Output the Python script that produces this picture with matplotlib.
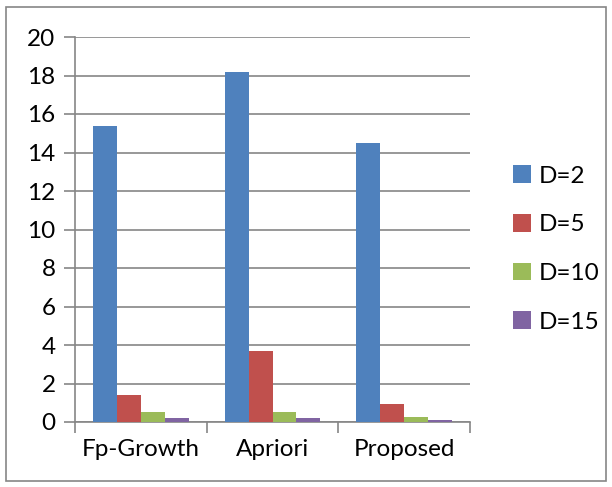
import matplotlib
matplotlib.use("Agg")
import matplotlib.pyplot as plt
from matplotlib.patches import Rectangle
import numpy as np

categories = ["Fp-Growth", "Apriori", "Proposed"]
series_names = ["D=2", "D=5", "D=10", "D=15"]
d2 = [15.38, 18.18, 14.5]
d5 = [1.42, 3.69, 0.93]
d10 = [0.54, 0.54, 0.28]
d15 = [0.2, 0.2, 0.09]
colors = ["#4F81BD", "#C0504D", "#9BBB59", "#8064A2"]
yticks = [0, 2, 4, 6, 8, 10, 12, 14, 16, 18, 20]

plt.rcParams['font.family'] = ['Lato', 'DejaVu Sans']

W, H = 612, 487
fig = plt.figure(figsize=(W / 100, H / 100), dpi=100)
ax = fig.add_axes([75 / W, 1 - 422 / H, (470 - 75) / W, (422 - 37) / H])

x = np.arange(len(categories))
bw = 0.182
series = [d2, d5, d10, d15]
handles = []
for i, (vals, c, name) in enumerate(zip(series, colors, series_names)):
    h = ax.bar(x + (i - 1.5) * bw, vals, bw, color=c, label=name, zorder=3)
    handles.append(h)

fs = 17.5
ax.set_xlim(-0.5, len(categories) - 0.5)
ax.set_ylim(0, 20)
ax.set_yticks(yticks)
ax.set_yticklabels([str(v) for v in yticks], fontsize=fs)
ax.set_xticks(x)
ax.set_xticklabels(categories, fontsize=fs)
ax.tick_params(axis='x', length=0, pad=12)
ax.set_xticks(np.arange(len(categories) + 1) - 0.5, minor=True)
ax.tick_params(axis='x', which='minor', length=8, color='#868686', width=1.2)
ax.tick_params(axis='y', length=8, color='#868686', width=1.2, pad=6)
ax.grid(axis='y', color='#868686', linewidth=1.2, zorder=0)
for s in ['top', 'right']:
    ax.spines[s].set_visible(False)
for s in ['left', 'bottom']:
    ax.spines[s].set_color('#868686')
    ax.spines[s].set_linewidth(1.2)
ax.set_axisbelow(True)

fig.legend(handles=handles, labels=series_names, loc='center left',
           bbox_to_anchor=(513 / W, 1 - 249 / H), frameon=False, fontsize=fs,
           handlelength=0.75, handleheight=0.75, handletextpad=0.3, labelspacing=1.12,
           borderpad=0, borderaxespad=0)

fig.patches.append(Rectangle((6 / W, 1 - 481 / H), 600 / W, 474 / H,
                             transform=fig.transFigure, fill=False,
                             edgecolor='#868686', linewidth=1.2))

fig.savefig("out.png", dpi=100)
